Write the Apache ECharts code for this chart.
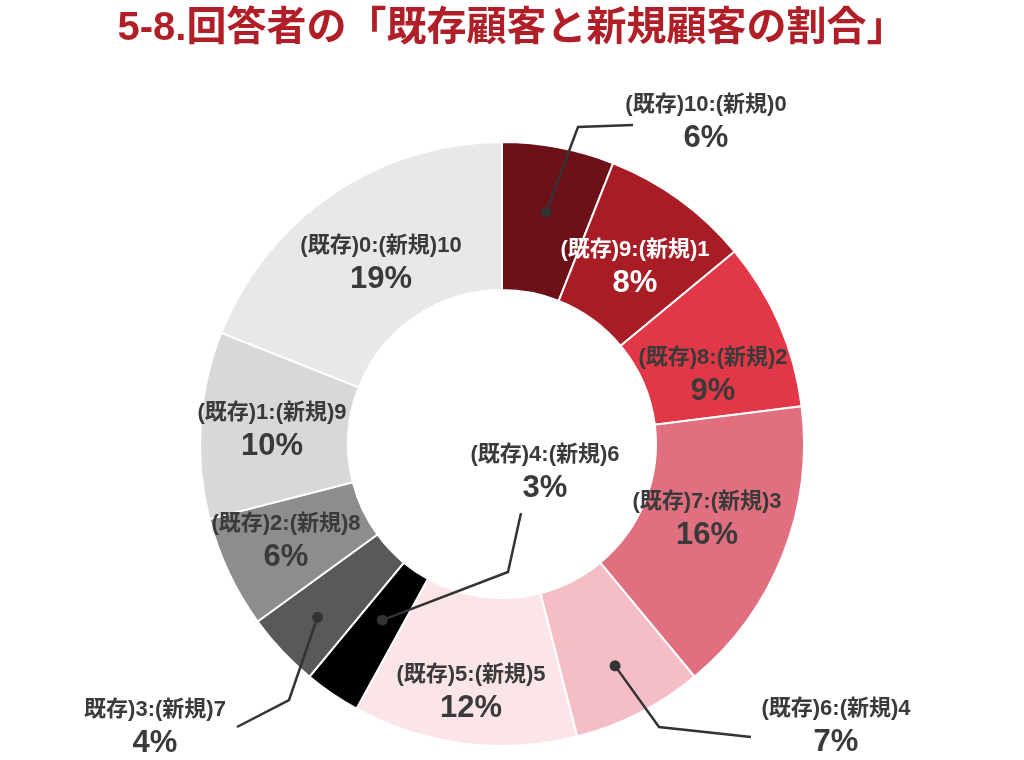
<!DOCTYPE html>
<html><head><meta charset="utf-8">
<script src="https://cdn.jsdelivr.net/npm/echarts@6/dist/echarts.min.js"></script>
<style>html,body{margin:0;padding:0;background:#fff}#c{width:1024px;height:760px}</style>
</head><body><div id="c"></div>
<script>
const titleText = '5-8.回答者の「既存顧客と新規顧客の割合」';
const categories = ['(既存)10:(新規)0','(既存)9:(新規)1','(既存)8:(新規)2','(既存)7:(新規)3','(既存)6:(新規)4','(既存)5:(新規)5','(既存)4:(新規)6','(既存)3:(新規)7','(既存)2:(新規)8','(既存)1:(新規)9','(既存)0:(新規)10'];
const shownNames = ['(既存)10:(新規)0','(既存)9:(新規)1','(既存)8:(新規)2','(既存)7:(新規)3','(既存)6:(新規)4','(既存)5:(新規)5','(既存)4:(新規)6','既存)3:(新規)7','(既存)2:(新規)8','(既存)1:(新規)9','(既存)0:(新規)10'];
const values = [6, 8, 9, 16, 7, 12, 3, 4, 6, 10, 19];
const colors = ['#6c1118','#a81d25','#e23747','#e0707f','#f5bec6','#fce5e8','#000000','#5a585a','#8e8c8e','#d8d8d8','#e8e8e8'];

// layout (label block centres, leader line elbows/ends)
const CX = 502, CY = 444, R0 = 154, R1 = 302;
const labelPos = [[706,123],[635,268],[713,376],[707,520],[836,727],[471,693],[545,473],[155,728],[286,542],[272,431],[381,264]];
const whiteText = [false,true,false,false,false,false,false,false,false,false,false];
const leader = {
  0: {r: 236, pts: [[578,127],[633,125]]},
  4: {r: 249, pts: [[659,727],[751,737]]},
  6: {r: 213, pts: [[508,572],[521,513]]},
  7: {r: 253, pts: [[289,700],[237,727]]}
};

const total = values.reduce((a,b)=>a+b,0);
let cum = 0;
const midAngles = values.map(v => { const m = cum + v/2; cum += v; return m / total * 2 * Math.PI; });
function dotPoint(i){ const a = midAngles[i], r = leader[i].r; return [CX + r*Math.sin(a), CY - r*Math.cos(a)]; }

const textColor = '#3a3a3a';
const data = values.map((v,i) => ({
  name: categories[i], value: v,
  itemStyle: {color: colors[i]}
}));

const graphics = [];
Object.keys(leader).forEach(k => {
  const i = +k, p = dotPoint(i);
  graphics.push({type:'polyline', shape:{points:[p, leader[i].pts[0], leader[i].pts[1]]},
    style:{stroke:'#333', lineWidth:2.5, fill:null, lineJoin:'miter'}, z:100});
  graphics.push({type:'circle', shape:{cx:p[0], cy:p[1], r:5.5}, style:{fill:'#333'}, z:101});
});

const FONT = '"Liberation Sans","Noto Sans CJK JP",sans-serif';
const chart = echarts.init(document.getElementById('c'), null, {renderer:'canvas'});
chart.setOption({
  backgroundColor:'#fff',
  animation:false,
  title:{text:titleText, left:'center', top:4,
    textStyle:{fontSize:40, fontWeight:'bold', color:'#b01f27', fontFamily:FONT}},
  graphic: graphics,
  series:[{
    type:'pie', center:[CX,CY], radius:[R0,R1], startAngle:90, clockwise:true,
    avoidLabelOverlap:false,
    itemStyle:{borderColor:'#fff', borderWidth:2},
    data:data,
    labelLine:{show:false},
    label:{
      show:true, position:'inside',
      formatter: p => {
        const i = p.dataIndex; const w = whiteText[i] ? 'w' : '';
        return `{n${w}|${shownNames[i]}}\n{p${w}|${p.value}%}`;
      },
      rich:{
        n:{fontSize:22, fontWeight:'bold', color:textColor, lineHeight:31, fontFamily:FONT, align:'center'},
        p:{fontSize:31, fontWeight:'bold', color:textColor, lineHeight:36, fontFamily:FONT, align:'center'},
        nw:{fontSize:22, fontWeight:'bold', color:'#fff', lineHeight:31, fontFamily:FONT, align:'center'},
        pw:{fontSize:31, fontWeight:'bold', color:'#fff', lineHeight:36, fontFamily:FONT, align:'center'}
      }
    },
    labelLayout: params => {
      const i = params.dataIndex;
      return {x: labelPos[i][0], y: labelPos[i][1], align:'center', verticalAlign:'middle'};
    }
  }]
});
</script></body></html>
